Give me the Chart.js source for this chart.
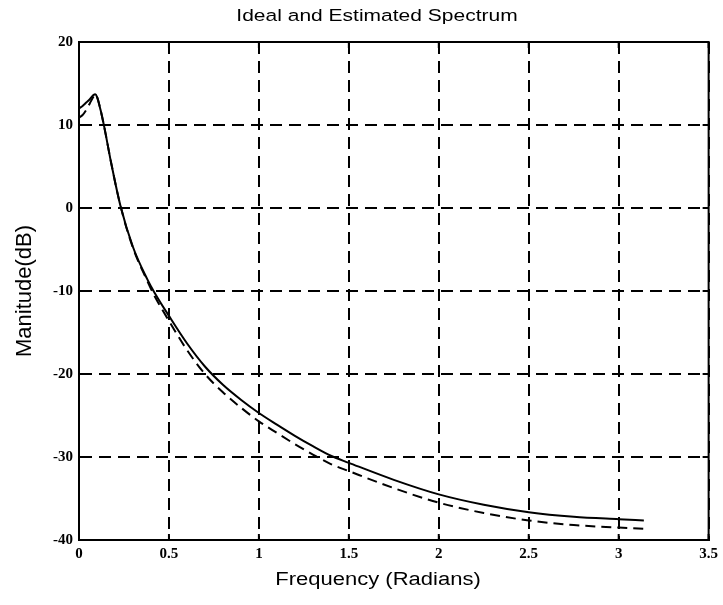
<!DOCTYPE html>
<html>
<head>
<meta charset="utf-8">
<script src="https://cdn.jsdelivr.net/npm/chart.js@4.4.0/dist/chart.umd.min.js"></script>
<style>
  html, body { margin: 0; padding: 0; background: #fff; }
  canvas { display: block; }
</style>
</head>
<body>
<canvas id="spectrumChart" width="723" height="605"></canvas>
<script>
// frequency samples (radians)
const freq      = [0, 0.02, 0.04, 0.06, 0.08, 0.09, 0.1, 0.12, 0.14, 0.18, 0.23, 0.3, 0.38, 0.42, 0.5, 0.6, 0.7, 0.8, 0.9, 1.0, 1.1, 1.2, 1.3, 1.4, 1.5, 1.75, 2.0, 2.25, 2.5, 2.75, 3.0, 3.14];
// estimated spectrum (solid)
const estimated = [12.0, 12.3, 12.7, 13.1, 13.6, 13.7, 13.4, 11.8, 9.8, 5.3, 0.3, -4.7, -8.6, -10.2, -13.0, -16.3, -19.1, -21.3, -23.1, -24.7, -26.1, -27.45, -28.7, -29.85, -30.7, -32.75, -34.5, -35.75, -36.65, -37.2, -37.5, -37.65];
// ideal spectrum (dashed)
const ideal     = [10.9, 11.2, 11.8, 12.6, 13.4, 13.7, 13.4, 11.8, 9.8, 5.3, 0.3, -4.8, -8.8, -10.6, -13.6, -17.1, -20.0, -22.2, -24.05, -25.7, -27.1, -28.45, -29.7, -30.85, -31.7, -33.75, -35.5, -36.75, -37.65, -38.2, -38.5, -38.65];

const xTicks = [0, 0.5, 1, 1.5, 2, 2.5, 3, 3.5];
const yTicks = [-40, -30, -20, -10, 0, 10, 20];

const chartTitle = 'Ideal and Estimated Spectrum';
const xTitle = 'Frequency (Radians)';
const yTitle = 'Manitude(dB)';

function pairs(ys) {
  return freq.map((f, i) => ({ x: f, y: ys[i] }));
}

// the scanned figure looks a bit squashed vertically, so squash the titles too
function squashedText(ctx, text, x, y, font) {
  ctx.save();
  ctx.translate(x, y);
  ctx.scale(1, 0.8);
  ctx.font = font;
  ctx.fillText(text, 0, 0);
  ctx.restore();
}

// box round the plot, inward ticks, titles
const frame = {
  id: 'frame',
  afterDraw(chart) {
    const ctx = chart.ctx;
    const a = chart.chartArea;
    const xs = chart.scales.x;
    const ys = chart.scales.y;
    ctx.save();
    ctx.strokeStyle = '#000';
    ctx.lineWidth = 2;
    ctx.setLineDash([]);
    ctx.strokeRect(a.left, a.top, a.right - a.left, a.bottom - a.top);

    ctx.beginPath();
    xTicks.forEach(v => {
      const px = xs.getPixelForValue(v);
      ctx.moveTo(px, a.bottom); ctx.lineTo(px, a.bottom - 6);
      ctx.moveTo(px, a.top); ctx.lineTo(px, a.top + 6);
    });
    yTicks.forEach(v => {
      const py = ys.getPixelForValue(v);
      ctx.moveTo(a.left, py); ctx.lineTo(a.left + 6, py);
      ctx.moveTo(a.right, py); ctx.lineTo(a.right - 6, py);
    });
    ctx.stroke();

    ctx.fillStyle = '#000';
    ctx.textAlign = 'center';
    ctx.textBaseline = 'middle';
    squashedText(ctx, chartTitle, 377, 16, '21px "Liberation Sans", Arial, sans-serif');
    squashedText(ctx, xTitle, 378, 580, '22px "Liberation Sans", Arial, sans-serif');
    ctx.restore();
  }
};

const tickFont = { family: '"Liberation Serif", "Times New Roman", serif', size: 15, weight: 'bold' };

const ctx = document.getElementById('spectrumChart').getContext('2d');
const spectrumChart = new Chart(ctx, {
  type: 'line',
  data: {
    datasets: [{
      label: 'Ideal',
      data: pairs(ideal),
      borderColor: '#000',
      borderWidth: 2,
      borderDash: [10, 6],
      pointRadius: 0,
      cubicInterpolationMode: 'monotone',
      fill: false
    }, {
      label: 'Estimated',
      data: pairs(estimated),
      borderColor: '#000',
      borderWidth: 2,
      pointRadius: 0,
      cubicInterpolationMode: 'monotone',
      fill: false
    }]
  },
  options: {
    responsive: false,
    animation: false,
    devicePixelRatio: 1,
    layout: { padding: { top: 42, right: 12, left: 0, bottom: 0 } },
    plugins: {
      legend: { display: false },
      title: { display: false },
      tooltip: { enabled: false }
    },
    scales: {
      x: {
        type: 'linear',
        min: 0,
        max: 3.5,
        afterBuildTicks: scale => { scale.ticks = xTicks.map(v => ({ value: v })); },
        afterFit: scale => { scale.height = 65; },
        grid: {
          color: '#000',
          lineWidth: 2,
          drawTicks: false
        },
        border: { display: true, color: '#000', width: 2, dash: [12, 7] },
        ticks: {
          color: '#000',
          padding: 5,
          maxRotation: 0,
          font: tickFont,
          callback: v => String(v)
        }
      },
      y: {
        type: 'linear',
        min: -40,
        max: 20,
        afterBuildTicks: scale => { scale.ticks = yTicks.map(v => ({ value: v })); },
        afterFit: scale => { scale.width = 79; },
        grid: {
          color: '#000',
          lineWidth: 2,
          drawTicks: false
        },
        border: { display: true, color: '#000', width: 2, dash: [12, 7] },
        ticks: {
          color: '#000',
          padding: 6,
          font: tickFont,
          callback: v => String(v)
        },
        title: {
          display: true,
          text: yTitle,
          color: '#000',
          padding: { top: 12 },
          font: { family: '"Liberation Sans", Arial, sans-serif', size: 22 }
        }
      }
    }
  },
  plugins: [frame]
});
</script>
</body>
</html>
